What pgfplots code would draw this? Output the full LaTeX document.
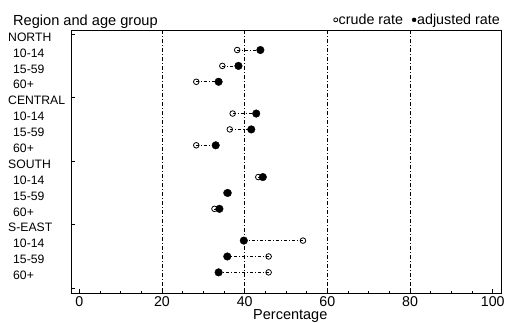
\documentclass[border=0pt]{standalone}
\usepackage{fontspec}
\setmainfont{Liberation Sans}
\usepackage{pgfplots}
\pgfplotsset{compat=1.18}
\begin{document}
\begin{tikzpicture}
\begin{axis}[
  at={(0,0)}, anchor=south west,
  scale only axis,
  width=430bp, height=263bp,
  xmin=-2, xmax=102,
  ymin=-0.26, ymax=16.3,
  y dir=reverse,
  axis line style={line width=0.9bp},
  tick align=inside,
  xtick pos=bottom, ytick pos=left,
  xtick={0,20,40,60,80,100},
  minor x tick num=3,
  major tick length=4bp, minor tick length=2.5bp,
  every tick/.style={black, line width=0.6bp},
  extra x ticks={20,40,60,80},
  extra x tick labels={},
  extra x tick style={grid=major, major tick length=0pt},
  major grid style={black, line width=0.6bp, dash pattern=on 4bp off 2bp on 1bp off 2bp},
  ytick={0,1,2,3,4,5,6,7,8,9,10,11,12,13,14,15},
  yticklabels={NORTH,\hspace{5bp}10-14,\hspace{5bp}15-59,\hspace{5bp}60+,CENTRAL,\hspace{5bp}10-14,\hspace{5bp}15-59,\hspace{5bp}60+,SOUTH,\hspace{5bp}10-14,\hspace{5bp}15-59,\hspace{5bp}60+,S-EAST,\hspace{5bp}10-14,\hspace{5bp}15-59,\hspace{5bp}60+},
  ytick style={draw=none},
  extra y ticks={0,4,8,12,16},
  extra y tick labels={},
  extra y tick style={ytick style={draw=black}, major tick length=4bp},
  yticklabel style={anchor=west, xshift=-63bp, yshift=-3bp, font=\fontsize{12.2bp}{14bp}\selectfont, inner sep=0pt},
  xticklabel style={font=\fontsize{14.2bp}{17bp}\selectfont},
  /pgf/number format/assume math mode=true,
  xlabel={Percentage},
  xlabel style={at={(axis description cs:0.51,0)}, anchor=center, yshift=-23bp, font=\fontsize{14.5bp}{17bp}\selectfont},
  clip=false,
  legend columns=2,
  legend style={draw=none, fill=none, at={(rel axis cs:1,1)}, anchor=south east, yshift=3bp, inner sep=0pt,
    font=\fontsize{14.3bp}{17bp}\selectfont, nodes={inner sep=1bp}},
  /tikz/every even column/.append style={column sep=8bp},
  legend image code/.code={\draw[mark repeat=2,mark phase=2, mark size=2bp] plot coordinates {(0bp,0bp)(2bp,0bp)(4bp,0bp)};},
]
% connecting lines
\pgfplotsset{conn/.style={black, line width=0.6bp, dash pattern=on 3bp off 2bp on 1bp off 2bp, forget plot}}
\addplot[conn] coordinates {(38.2,1) (43.8,1)};
\addplot[conn] coordinates {(34.6,2) (38.5,2)};
\addplot[conn] coordinates {(28.3,3) (33.7,3)};
\addplot[conn] coordinates {(37.1,5) (42.8,5)};
\addplot[conn] coordinates {(36.4,6) (41.6,6)};
\addplot[conn] coordinates {(28.3,7) (33.0,7)};
\addplot[conn] coordinates {(43.3,9) (44.4,9)};
\addplot[conn] coordinates {(35.6,10) (35.9,10)};
\addplot[conn] coordinates {(32.7,11) (33.9,11)};
\addplot[conn] coordinates {(54.1,13) (39.8,13)};
\addplot[conn] coordinates {(45.8,14) (35.8,14)};
\addplot[conn] coordinates {(45.8,15) (33.7,15)};
% crude rate
\addplot[only marks, mark=o, mark size=2.8bp, mark options={draw=black, fill=white, line width=0.8bp}] coordinates {
(38.2,1) (34.6,2) (28.3,3) (37.1,5) (36.4,6) (28.3,7) (43.3,9) (35.6,10) (32.7,11) (54.1,13) (45.8,14) (45.8,15)};
\addlegendentry{crude rate}
% adjusted rate
\addplot[only marks, mark=*, mark size=3.8bp, mark options={draw=black, fill=black}] coordinates {
(43.8,1) (38.5,2) (33.7,3) (42.8,5) (41.6,6) (33.0,7) (44.4,9) (35.9,10) (33.9,11) (39.8,13) (35.8,14) (33.7,15)};
\addlegendentry{adjusted rate}
\node[anchor=base west, inner sep=0pt, font=\fontsize{14.6bp}{17bp}\selectfont] at ([xshift=-58bp, yshift=5bp]rel axis cs:0,1) {Region and age group};
\end{axis}
\pgfresetboundingbox
\path ([shift={(-71bp,-30bp)}]current axis.south west) rectangle ([shift={(439bp,293bp)}]current axis.south west);
\end{tikzpicture}
\end{document}
